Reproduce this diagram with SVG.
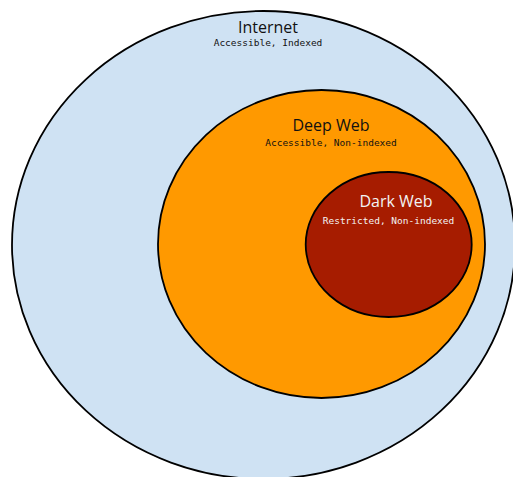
<svg xmlns="http://www.w3.org/2000/svg" width="513" height="477" viewBox="0 0 513 477">
<style>
.ring{stroke:#000;stroke-width:1.8}
.title{font-family:"Open Sans","Noto Sans",sans-serif;font-size:16px;text-anchor:middle}
.sub{font-family:"DejaVu Sans Mono","Liberation Mono",monospace;font-size:9.5px;text-anchor:middle}
</style>
<rect width="513" height="477" fill="#fff"/>
<g id="internet">
<ellipse class="ring" cx="263.5" cy="245" rx="251.5" ry="234" fill="#cfe2f3"/>
<text class="title" x="268" y="33" fill="#111">Internet</text>
<text class="sub" x="268" y="46" fill="#111">Accessible, Indexed</text>
</g>
<g id="deepweb">
<ellipse class="ring" cx="321.5" cy="244" rx="163.5" ry="154" fill="#ff9900"/>
<text class="title" x="331" y="131" fill="#111">Deep Web</text>
<text class="sub" x="331" y="146" fill="#111">Accessible, Non-indexed</text>
</g>
<g id="darkweb">
<ellipse class="ring" cx="388.7" cy="244.5" rx="83" ry="72.5" fill="#a61c00"/>
<text class="title" x="396" y="207" fill="#f3f3f3">Dark Web</text>
<text class="sub" x="388.5" y="224" fill="#f3f3f3">Restricted, Non-indexed</text>
</g>
<g id="connectors"/>
</svg>
